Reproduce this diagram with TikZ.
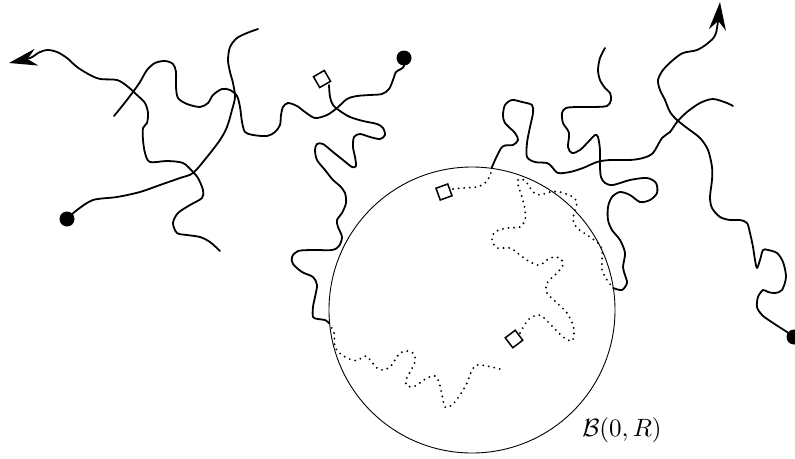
\documentclass[tikz,border=0pt]{standalone}
\usepackage{amsmath}
\usepackage{xcolor}
\usepackage{tikz}
\usetikzlibrary{arrows.meta}
\definecolor{ink}{HTML}{000000}
\tikzset{walk/.style={draw=ink,line width=1.8pt,line cap=round,line join=round},dotwalk/.style={draw=ink,line width=2.1pt,line cap=round,dash pattern=on 0pt off 5.6pt},ball/.style={circle,draw=ink,line width=.9pt,inner sep=0pt},blob/.style={circle,fill=ink,inner sep=0pt,minimum size=15pt},marker/.style={rectangle,draw=ink,fill=white,line width=1.5pt,inner sep=0pt,minimum size=12.5pt},tip/.style={-{Stealth[length=28pt,width=17pt,inset=9pt]}}}

\begin{document}
\begin{tikzpicture}[x=1pt,y=-1pt]
\useasboundingbox (0,0) rectangle (795,458);
\node[ball,minimum size=286pt] (B) at (472,310) {};
\node[scale=2.5] (lab) at (622,430) {$\mathcal{B}(0,R)$};
\node[blob] (d1) at (67,219) {};
\node[blob] (d2) at (404,58) {};
\node[blob] (d3) at (794,337) {};
\coordinate (e1) at (258,29);
\coordinate (e2) at (9,63);
\coordinate (e4) at (733,106);
\coordinate (e5) at (605,48);
\coordinate (e6) at (720,2);
% walks in the plane
\draw[walk] plot[smooth] coordinates {(d1.center) (77,210) (93,200) (117,197) (140,192) (160,185) (180,178) (193,173) (207,157) (220,140) (227,127) (232,110) (235,97) (233,83) (230,72) (228,60) (230,47) (237,38) (247,33) (e1)};
\draw[walk,tip] plot[smooth] coordinates {(220,251) (210,242) (200,237) (187,235) (177,233) (173,223) (178,213) (190,205) (202,198) (203,190) (198,178) (193,172) (183,163) (167,161) (150,162) (145,153) (143,140) (143,128) (147,123) (148,113) (145,103) (137,95) (127,86) (117,80) (100,79) (90,75) (77,67) (67,58) (57,52) (47,50) (38,53) (30,58) (e2)};
\draw[walk] plot[smooth] coordinates {(114,116) (123,105) (133,92) (140,82) (147,70) (155,63) (165,61) (173,64) (176,72) (176,87) (178,98) (187,104) (200,107) (208,103) (213,95) (222,89) (230,90) (237,96) (240,107) (242,122) (245,132) (253,135) (267,136) (275,132) (280,125) (281,115) (283,107) (288,103) (297,106) (305,112) (315,118) (327,115) (337,108) (347,99) (357,96) (370,95) (382,94) (389,89) (393,80) (396,72) (401,69) (404,66) (d2.center)};
\draw[walk] plot[smooth] coordinates {(329,85) (330,97) (333,105) (340,111) (350,117) (363,121) (377,124) (383,128) (385,135) (380,139) (370,137) (360,134) (354,137) (353,147) (355,157) (356,166) (352,167) (343,160) (333,152) (323,144) (317,144) (315,150) (317,160) (325,170) (333,180) (340,186) (345,193) (346,203) (342,213) (337,220) (338,227) (342,237) (339,246) (332,250) (313,250) (298,251) (292,257) (293,264) (302,272) (313,277) (317,285) (315,297) (313,307) (313,317) (318,319) (325,320) (329,323)};
\draw[walk] plot[smooth] coordinates {(492,167) (502,147) (513,145) (518,140) (515,133) (505,123) (503,115) (505,105) (512,100) (522,102) (532,105) (533,113) (530,127) (527,143) (527,157) (535,162) (547,163) (552,167) (558,173) (570,172) (583,168) (597,162) (610,160) (630,160) (643,158) (653,153) (662,138) (670,132) (677,122) (687,112) (700,103) (713,99) (727,103) (e4)};
\draw[walk] plot[smooth] coordinates {(613,288) (622,290) (627,283) (625,275) (623,267) (625,253) (620,240) (612,230) (608,220) (608,207) (612,197) (620,192) (630,195) (640,202) (650,200) (657,193) (656,183) (647,178) (630,180) (613,185) (605,183) (601,177) (600,167) (600,150) (598,137) (595,135) (590,140) (580,150) (572,153) (568,147) (569,133) (563,123) (562,113) (566,108) (577,107) (593,107) (607,106) (611,100) (610,93) (605,88) (600,80) (598,70) (600,58) (e5)};
\draw[walk,tip] plot[smooth] coordinates {(d3.center) (787,332) (773,323) (762,315) (757,307) (758,297) (763,290) (768,292) (775,293) (782,290) (786,277) (783,262) (777,253) (768,250) (763,250) (760,260) (757,268) (755,260) (753,247) (750,233) (747,223) (740,220) (730,220) (720,217) (712,208) (710,197) (712,180) (712,167) (708,150) (700,138) (687,128) (677,120) (670,112) (665,100) (660,90) (658,80) (663,70) (673,60) (683,53) (697,50) (708,43) (716,33) (e6)};
% walks inside the ball
\draw[dotwalk] plot[smooth] coordinates {(329,323) (334,333) (335,347) (342,355) (352,360) (358,360) (366,356) (371,361) (377,368) (383,370) (390,367) (395,360) (400,353) (407,351) (414,354) (415,362) (410,372) (406,380) (407,386) (415,386) (427,378) (435,376) (439,382) (442,395) (445,407) (452,405) (460,395) (467,383) (472,370) (477,365) (487,366) (500,369)};
\draw[dotwalk] plot[smooth] coordinates {(453,189) (463,188) (477,187) (485,183) (490,176) (492,167)};
\draw[dotwalk] plot[smooth] coordinates {(520,333) (528,320) (537,315) (543,317) (553,327) (563,337) (572,341) (574,333) (573,325) (567,313) (557,303) (547,293) (547,283) (557,273) (563,265) (560,258) (550,258) (540,265) (530,262) (520,255) (510,248) (497,248) (492,240) (495,232) (507,228) (520,227) (525,220) (525,210) (522,197) (518,185) (518,180) (522,179) (527,183) (533,192) (540,195) (550,192) (560,192) (573,197) (577,203) (575,210) (573,220) (577,228) (587,235) (598,243) (602,250) (602,260) (602,270) (607,280) (613,288)};
\node[marker,rotate=30] (q1) at (322,79) {};
\node[marker,rotate=20] (q2) at (444,192) {};
\node[marker,rotate=37] (q3) at (514,339) {};
\end{tikzpicture}
\end{document}
